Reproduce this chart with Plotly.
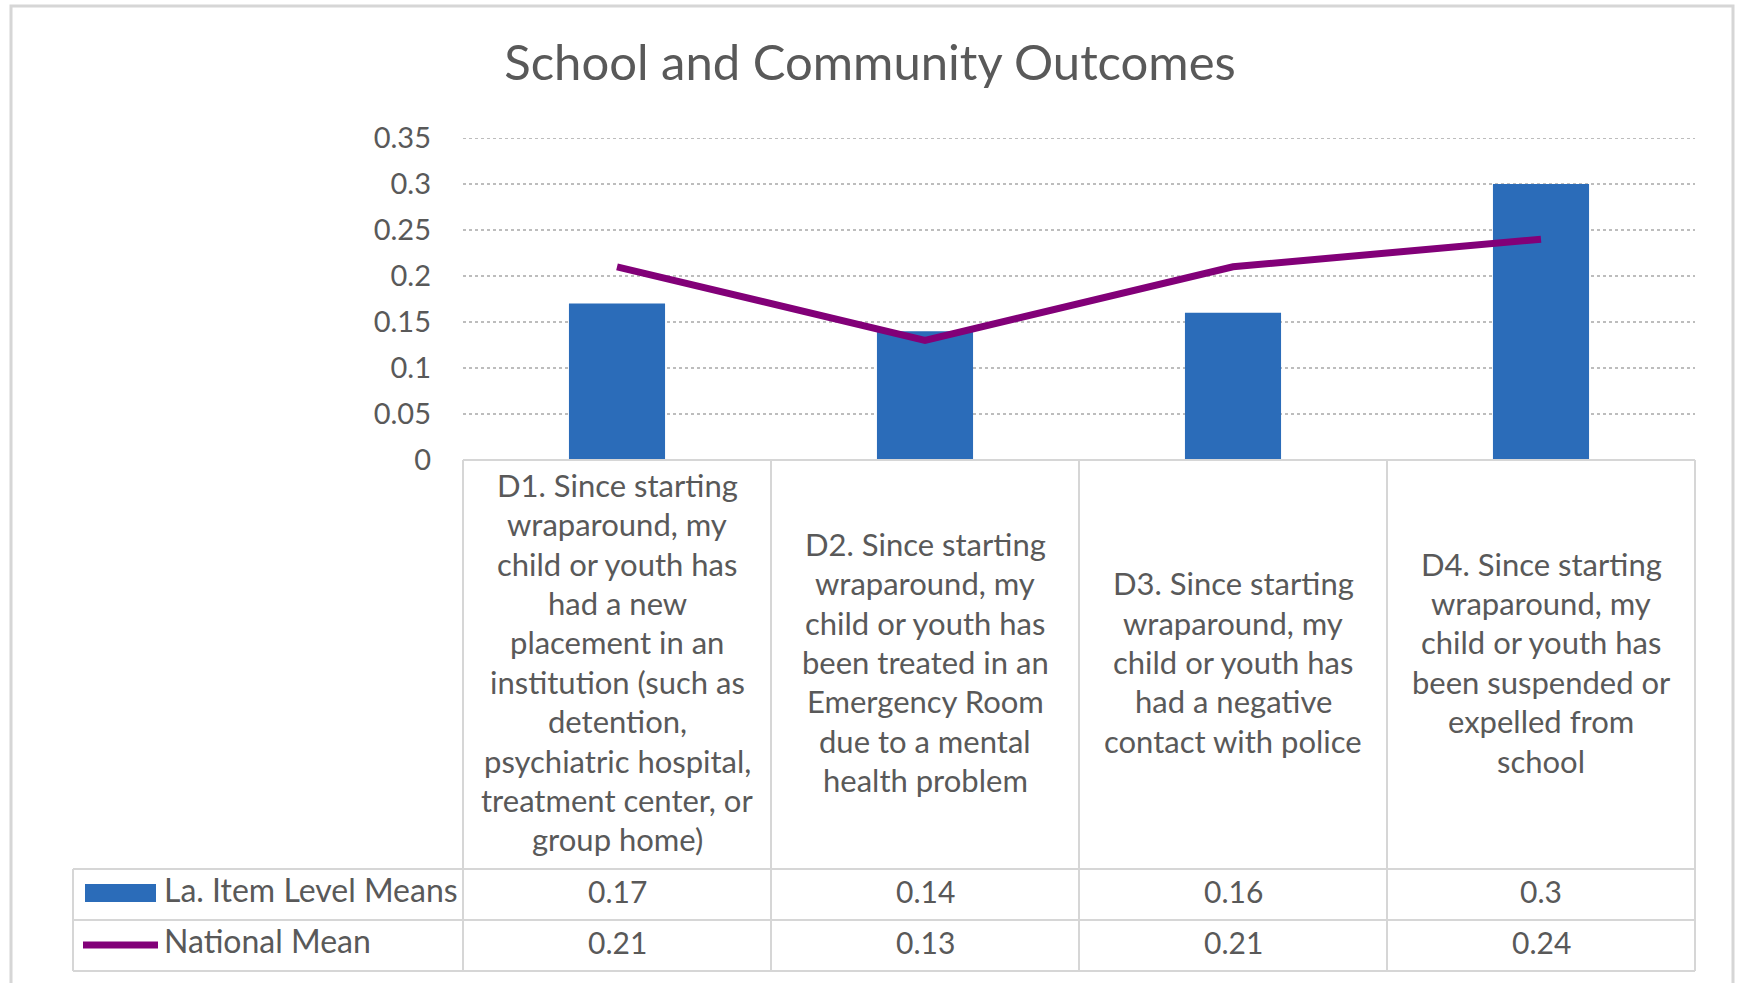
import plotly.graph_objects as go

# ---------------- data ----------------
categories = [
    "D1. Since starting<br>wraparound, my<br>child or youth has<br>had a new<br>placement in an<br>institution (such as<br>detention,<br>psychiatric hospital,<br>treatment center, or<br>group home)",
    "D2. Since starting<br>wraparound, my<br>child or youth has<br>been treated in an<br>Emergency Room<br>due to a mental<br>health problem",
    "D3. Since starting<br>wraparound, my<br>child or youth has<br>had a negative<br>contact with police",
    "D4. Since starting<br>wraparound, my<br>child or youth has<br>been suspended or<br>expelled from<br>school",
]
la_means = [0.17, 0.14, 0.16, 0.30]
national_mean = [0.21, 0.13, 0.21, 0.24]
la_label_values = ["0.17", "0.14", "0.16", "0.3"]
nat_label_values = ["0.21", "0.13", "0.21", "0.24"]
series_names = ["La. Item Level Means", "National Mean"]
title_text = "School and Community Outcomes"
y_max = 0.35

# ---------------- styling ----------------
W, H = 1737, 983
# plot area in page pixels
PL, PR, PT, PB = 463, 1695, 138, 460
BAR_COLOR = "#2b6cb9"
LINE_COLOR = "#820078"
TEXT_COLOR = "#595959"
GRID_COLOR = "#bdbdbd"
TABLE_COLOR = "#d6d6d6"
FONT = "Lato"


def px2x(px):
    """page pixel x -> paper x"""
    return (px - PL) / (PR - PL)


def py2y(py):
    """page pixel y -> paper y"""
    return (PB - py) / (PB - PT)


fig = go.Figure()
fig.add_trace(go.Bar(x=categories, y=la_means, name=series_names[0],
                     marker=dict(color=BAR_COLOR, line=dict(width=0)),
                     showlegend=False))
fig.add_trace(go.Scatter(x=categories, y=national_mean, name=series_names[1],
                         mode="lines", line=dict(color=LINE_COLOR, width=7),
                         showlegend=False))

shapes = []
ann = []

# outer chart border (bottom edge lies outside the picture)
shapes.append(dict(type="rect", xref="paper", yref="paper",
                   x0=px2x(11), x1=px2x(1733), y0=py2y(6), y1=py2y(1000),
                   line=dict(color="#d6d6d6", width=3), layer="below"))

# top gridline (plotly omits the one on the range edge)
shapes.append(dict(type="line", xref="paper", yref="y",
                   x0=0, x1=1, y0=y_max, y1=y_max,
                   line=dict(color=GRID_COLOR, width=2, dash="dot")))

# table lines
col_x = [463, 771, 1079, 1387, 1695]
for cx in col_x:
    shapes.append(dict(type="line", xref="paper", yref="paper",
                       x0=px2x(cx), x1=px2x(cx), y0=py2y(460), y1=py2y(971),
                       line=dict(color=TABLE_COLOR, width=2)))
shapes.append(dict(type="line", xref="paper", yref="paper",
                   x0=px2x(73), x1=px2x(73), y0=py2y(869), y1=py2y(971),
                   line=dict(color=TABLE_COLOR, width=2)))
shapes.append(dict(type="line", xref="paper", yref="paper",
                   x0=px2x(463), x1=px2x(1695), y0=py2y(460), y1=py2y(460),
                   line=dict(color=TABLE_COLOR, width=2)))
for ry in [869, 920, 971]:
    shapes.append(dict(type="line", xref="paper", yref="paper",
                       x0=px2x(73), x1=px2x(1695), y0=py2y(ry), y1=py2y(ry),
                       line=dict(color=TABLE_COLOR, width=2)))

# legend keys inside the table
shapes.append(dict(type="rect", xref="paper", yref="paper",
                   x0=px2x(85), x1=px2x(156), y0=py2y(884), y1=py2y(902),
                   fillcolor=BAR_COLOR, line=dict(width=0)))
shapes.append(dict(type="line", xref="paper", yref="paper",
                   x0=px2x(83), x1=px2x(158), y0=py2y(945), y1=py2y(945),
                   line=dict(color=LINE_COLOR, width=7)))

# category labels (wrapped lines, centred in the cell)
PITCH = 39.4
CENTER = 662
for cat in categories:
    lines = cat.split("<br>")
    n = len(lines)
    for i, t in enumerate(lines):
        py = CENTER + (i - (n - 1) / 2) * PITCH
        ann.append(dict(x=cat, xref="x", y=py2y(py), yref="paper",
                        text=t, showarrow=False, xanchor="center",
                        yanchor="middle",
                        font=dict(family=FONT, size=31, color=TEXT_COLOR)))

# value rows
for cat, a, b in zip(categories, la_label_values, nat_label_values):
    ann.append(dict(x=cat, xref="x", y=py2y(891), yref="paper", text=a,
                    showarrow=False, xanchor="center", yanchor="middle",
                    font=dict(family=FONT, size=30, color=TEXT_COLOR)))
    ann.append(dict(x=cat, xref="x", y=py2y(942), yref="paper", text=b,
                    showarrow=False, xanchor="center", yanchor="middle",
                    font=dict(family=FONT, size=30, color=TEXT_COLOR)))

# legend labels
for name, py in zip(series_names, [889, 940]):
    ann.append(dict(x=px2x(162), xref="paper", y=py2y(py), yref="paper",
                    text=name, showarrow=False, xanchor="left",
                    yanchor="middle",
                    font=dict(family=FONT, size=32, color=TEXT_COLOR)))

fig.update_layout(
    width=W, height=H,
    margin=dict(l=PL, r=W - PR, t=PT, b=H - PB, pad=0),
    paper_bgcolor="white", plot_bgcolor="white",
    title=dict(text=title_text, x=870 / W, xref="container",
               xanchor="center", y=1 - 63 / H, yanchor="middle",
               font=dict(family=FONT, size=49, color=TEXT_COLOR)),
    bargap=0.688,
    shapes=shapes, annotations=ann,
    xaxis=dict(type="category", showticklabels=False, showgrid=False,
               zeroline=False, showline=False, range=[-0.5, 3.5]),
    yaxis=dict(range=[0, y_max], dtick=0.05, tick0=0, showgrid=True,
               gridcolor=GRID_COLOR, griddash="dot", gridwidth=2,
               zeroline=False, showline=False, ticks="",
               ticklabelstandoff=31,
               tickfont=dict(family=FONT, size=29, color=TEXT_COLOR)),
    font=dict(family=FONT, color=TEXT_COLOR),
)

fig.write_html(
    "out.html",
    config={"displayModeBar": False},
    post_script="document.body.style.margin='0';document.body.style.overflow='hidden';",
)
